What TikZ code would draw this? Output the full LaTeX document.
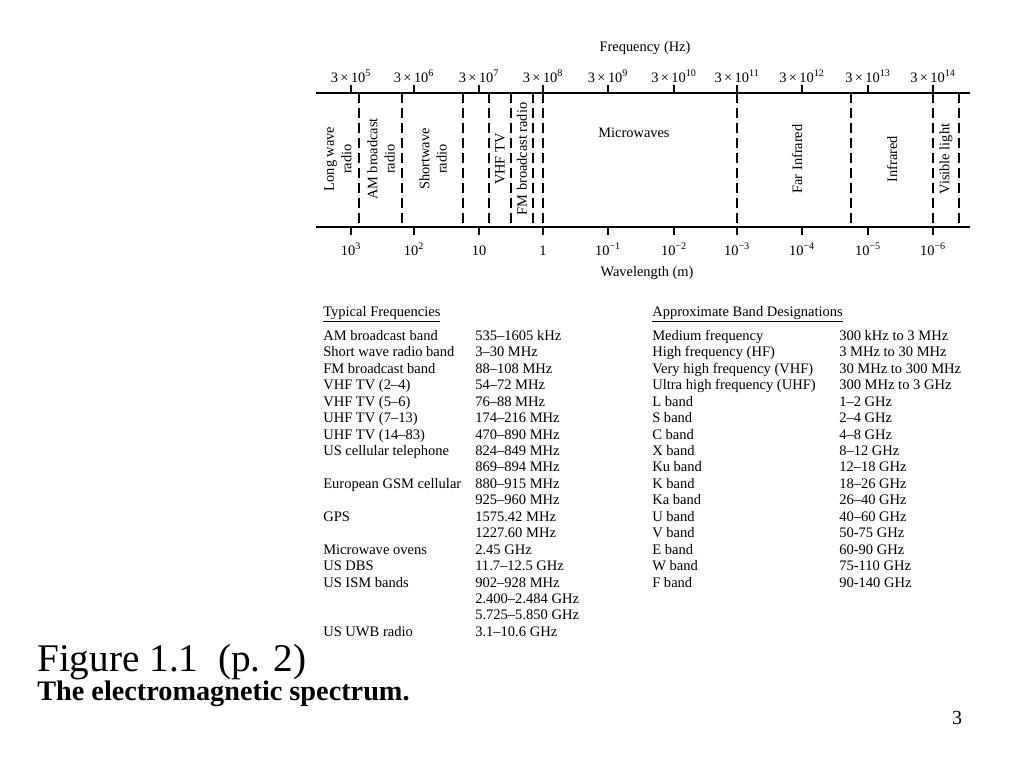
\documentclass[tikz,border=0pt]{standalone}
\usepackage{fontspec}
\setmainfont{Liberation Serif}
\usetikzlibrary{positioning}
\tikzset{
  axis1/.style = {
    draw = black, line width = 0.9pt,
  }
}
\tikzset{
  band1/.style = {
    draw = black, line width = 0.9pt, dash pattern = on 7.5pt off 3.75pt,
  }
}
\tikzset{
  lab1/.style = {
    font = \fontsize{10.8}{13}\selectfont, inner sep = 0pt, anchor = base,
  }
}
\tikzset{
  vlab1/.style = {
    font = \fontsize{10.8}{13}\selectfont, inner sep = 0pt, rotate = 90, align = center,
  }
}
\tikzset{
  table1/.style = {
    font = \fontsize{10.9}{12.33}\selectfont, inner sep = 0pt, anchor = base west,
  }
}

\begin{document}
\begin{tikzpicture}[x = 0.75pt, y = -0.75pt]
            \useasboundingbox (0,0) rectangle (1024,768);
            % spectrum axes
            \coordinate (tl) at (316,93);
            \coordinate (tr) at (970,93);
            \coordinate (bl) at (316,227);
            \coordinate (br) at (970,227);
            \draw[axis1](tl) -- (tr);
            \draw[axis1](bl) -- (br);
            \draw[axis1](351,93) -- ++(0,-8) (414,93) -- ++(0,-8) (479,93) -- ++(0,-8) (543,93) -- ++(0,-8)
                (608,93) -- ++(0,-8) (674,93) -- ++(0,-8) (737,93) -- ++(0,-8) (802,93) -- ++(0,-8)
                (868,93) -- ++(0,-8) (933,93) -- ++(0,-8);
            \draw[axis1](351,227) -- ++(0,8) (414,227) -- ++(0,8) (479,227) -- ++(0,8) (543,227) -- ++(0,8)
                (608,227) -- ++(0,8) (674,227) -- ++(0,8) (737,227) -- ++(0,8) (802,227) -- ++(0,8)
                (868,227) -- ++(0,8) (933,227) -- ++(0,8);
            % frequency labels
            \node[lab1](freq) at (645,51){Frequency (Hz)};
            \node[lab1](f5) at (351,82){3\,×\,10\textsuperscript{5}};
            \node[lab1](f6) at (414,82){3\,×\,10\textsuperscript{6}};
            \node[lab1](f7) at (479,82){3\,×\,10\textsuperscript{7}};
            \node[lab1](f8) at (543,82){3\,×\,10\textsuperscript{8}};
            \node[lab1](f9) at (608,82){3\,×\,10\textsuperscript{9}};
            \node[lab1](f10) at (674,82){3\,×\,10\textsuperscript{10}};
            \node[lab1](f11) at (737,82){3\,×\,10\textsuperscript{11}};
            \node[lab1](f12) at (802,82){3\,×\,10\textsuperscript{12}};
            \node[lab1](f13) at (868,82){3\,×\,10\textsuperscript{13}};
            \node[lab1](f14) at (933,82){3\,×\,10\textsuperscript{14}};
            % wavelength labels
            \node[lab1](w3) at (351,255){10\textsuperscript{3}};
            \node[lab1](w2) at (414,255){10\textsuperscript{2}};
            \node[lab1](w1) at (479,255){10};
            \node[lab1](w0) at (543,255){1};
            \node[lab1](wm1) at (608,255){10\textsuperscript{−1}};
            \node[lab1](wm2) at (674,255){10\textsuperscript{−2}};
            \node[lab1](wm3) at (737,255){10\textsuperscript{−3}};
            \node[lab1](wm4) at (802,255){10\textsuperscript{−4}};
            \node[lab1](wm5) at (868,255){10\textsuperscript{−5}};
            \node[lab1](wm6) at (933,255){10\textsuperscript{−6}};
            \node[lab1](wave) at (647,276){Wavelength (m)};
            % band borders
            \draw[band1](359,93) -- (359,227);
            \draw[band1](402,93) -- (402,227);
            \draw[band1](463,93) -- (463,227);
            \draw[band1](489,93) -- (489,227);
            \draw[band1](511,93) -- (511,227);
            \draw[band1](533,93) -- (533,227);
            \draw[band1](543,93) -- (543,227);
            \draw[band1](737,93) -- (737,227);
            \draw[band1](851,93) -- (851,227);
            \draw[band1](933,93) -- (933,227);
            \draw[band1](959,93) -- (959,227);
            % band names
            \node[vlab1](lw) at (338,159){Long wave\\radio};
            \node[vlab1](am) at (381,159){AM broadcast\\radio};
            \node[vlab1](sw) at (433,159){Shortwave\\radio};
            \node[vlab1](vhf) at (500,159){VHF TV};
            \node[vlab1](fm) at (522,159){FM broadcast radio};
            \node[lab1](mw) at (634,137){Microwaves};
            \node[vlab1](fir) at (797,159){Far Infrared};
            \node[vlab1](ir) at (892,159){Infrared};
            \node[vlab1](vis) at (946,159){Visible light};
            % tables
            \node[table1](typfreq) at (323,316){\begin{tabular}[t]{@{}p{114pt}@{}l@{}}
                \multicolumn{2}{@{}l@{}}{\underline{Typical Frequencies}}\\[6pt]
                AM broadcast band & 535–1605 kHz\\
                Short wave radio band & 3–30 MHz\\
                FM broadcast band & 88–108 MHz\\
                VHF TV (2–4) & 54–72 MHz\\
                VHF TV (5–6) & 76–88 MHz\\
                UHF TV (7–13) & 174–216 MHz\\
                UHF TV (14–83) & 470–890 MHz\\
                US cellular telephone & 824–849 MHz\\
                 & 869–894 MHz\\
                European GSM cellular & 880–915 MHz\\
                 & 925–960 MHz\\
                GPS & 1575.42 MHz\\
                 & 1227.60 MHz\\
                Microwave ovens & 2.45 GHz\\
                US DBS & 11.7–12.5 GHz\\
                US ISM bands & 902–928 MHz\\
                 & 2.400–2.484 GHz\\
                 & 5.725–5.850 GHz\\
                US UWB radio & 3.1–10.6 GHz
            \end{tabular}};
            \node[table1](bands) at (652,316){\begin{tabular}[t]{@{}p{140.25pt}@{}l@{}}
                \multicolumn{2}{@{}l@{}}{\underline{Approximate Band Designations}}\\[6pt]
                Medium frequency & 300 kHz to 3 MHz\\
                High frequency (HF) & 3 MHz to 30 MHz\\
                Very high frequency (VHF) & 30 MHz to 300 MHz\\
                Ultra high frequency (UHF) & 300 MHz to 3 GHz\\
                L band & 1–2 GHz\\
                S band & 2–4 GHz\\
                C band & 4–8 GHz\\
                X band & 8–12 GHz\\
                Ku band & 12–18 GHz\\
                K band & 18–26 GHz\\
                Ka band & 26–40 GHz\\
                U band & 40–60 GHz\\
                V band & 50-75 GHz\\
                E band & 60-90 GHz\\
                W band & 75-110 GHz\\
                F band & 90-140 GHz
            \end{tabular}};
            % caption
            \node[inner sep = 0pt, anchor = base west, font = \fontsize{29.4}{33}\selectfont](fig) at (37,671){Figure 1.1\ \ (p. 2)};
            \node[inner sep = 0pt, anchor = base west, font = \bfseries\fontsize{21.2}{25}\selectfont](cap) at (37,700){The electromagnetic spectrum.};
            \node[inner sep = 0pt, anchor = base, font = \fontsize{15}{18}\selectfont](page) at (957,724){3};
        \end{tikzpicture}
\end{document}
